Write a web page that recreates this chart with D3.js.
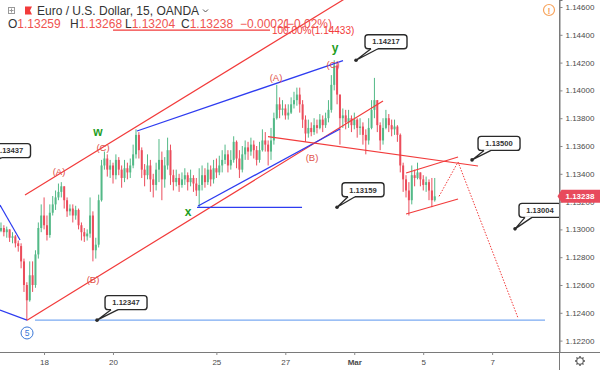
<!DOCTYPE html>
<html><head><meta charset="utf-8">
<script src="https://cdn.jsdelivr.net/npm/d3@7/dist/d3.min.js"></script>
<style>html,body{margin:0;padding:0;background:#fff;overflow:hidden}svg{display:block;font-family:Arial,"Liberation Sans",sans-serif}</style>
</head><body><svg id="c" width="600" height="370"></svg>
<script>
// ---------- DATA ----------
// time unit: trading days from Feb 18 00:00 (weekends removed), 2-hour candles
const candleStart = -1.248;
const candleStep = 1/12;
const firstOpen = 1.1299;
const closes = [
1.1301,1.1298,1.1300,1.1294,1.1295,1.1290,1.1288,1.1277,1.1260,1.1249,
1.1267,1.1260,1.1282,1.1301,1.1310,1.1303,1.1296,1.1312,1.1318,1.1323,
1.1327,1.1331,1.1321,1.1313,1.1315,1.1310,1.1314,1.1303,1.1298,1.1295,
1.1297,1.1310,1.1285,1.1289,1.1321,1.1346,1.1351,1.1343,1.1346,1.1339,
1.1350,1.1343,1.1337,1.1344,1.1341,1.1346,1.1354,1.1368,1.1357,1.1343,
1.1339,1.1346,1.1336,1.1332,1.1343,1.1350,1.1336,1.1346,1.1357,1.1339,
1.1334,1.1337,1.1332,1.1336,1.1339,1.1334,1.1337,1.1333,1.1328,1.1332,
1.1339,1.1334,1.1343,1.1336,1.1344,1.1341,1.1346,1.1350,1.1354,1.1346,
1.1350,1.1363,1.1351,1.1343,1.1354,1.1359,1.1356,1.1361,1.1357,1.1350,
1.1357,1.1364,1.1361,1.1356,1.1364,1.1380,1.1390,1.1386,1.1387,1.1382,
1.1384,1.1390,1.1393,1.1397,1.1390,1.1379,1.1369,1.1373,1.1370,1.1375,
1.1373,1.1379,1.1375,1.1380,1.1386,1.1404,1.1418,1.1397,1.1380,1.1382,
1.1377,1.1380,1.1375,1.1379,1.1373,1.1374,1.1368,1.1364,1.1373,1.1386,
1.1393,1.1375,1.1364,1.1373,1.1380,1.1375,1.1372,1.1374,1.1368,1.1346,
1.1336,1.1328,1.1321,1.1339,1.1337,1.1341,1.1336,1.1332,1.1334,1.1328,
1.1321,1.13238];
const highs = [
1.1305,1.1303,1.1302,1.1300,1.1298,1.1296,1.1292,1.1290,1.1279,1.1262,
1.1277,1.1277,1.1285,1.1305,1.1318,1.1323,1.1310,1.1318,1.1324,1.1328,
1.1333,1.1334,1.1331,1.1323,1.1318,1.1318,1.1317,1.1315,1.1305,1.1301,
1.1300,1.1323,1.1313,1.1294,1.1325,1.1350,1.1356,1.1354,1.1350,1.1348,
1.1354,1.1352,1.1346,1.1350,1.1348,1.1351,1.1361,1.1372,1.1370,1.1359,
1.1347,1.1354,1.1350,1.1340,1.1348,1.1365,1.1356,1.1352,1.1366,1.1361,
1.1343,1.1343,1.1340,1.1341,1.1344,1.1341,1.1343,1.1339,1.1337,1.1344,
1.1346,1.1344,1.1348,1.1346,1.1350,1.1351,1.1353,1.1357,1.1361,1.1357,
1.1357,1.1367,1.1364,1.1357,1.1360,1.1364,1.1363,1.1366,1.1364,1.1360,
1.1363,1.1372,1.1370,1.1364,1.1373,1.1384,1.1404,1.1395,1.1393,1.1390,
1.1390,1.1395,1.1399,1.1402,1.1402,1.1393,1.1382,1.1379,1.1377,1.1380,
1.1379,1.1383,1.1382,1.1384,1.1393,1.1411,1.14217,1.1420,1.1393,1.1387,
1.1386,1.1386,1.1382,1.1384,1.1380,1.1380,1.1377,1.1372,1.1380,1.1393,
1.1409,1.1393,1.1377,1.1380,1.1386,1.1383,1.1379,1.1379,1.1375,1.1369,
1.1348,1.1339,1.1334,1.1346,1.1343,1.1348,1.1341,1.1339,1.1338,1.1336,
1.1337,1.1337];
const lows = [
1.1298,1.1295,1.1294,1.1291,1.1290,1.1287,1.1284,1.1272,1.1255,1.12347,
1.1248,1.1255,1.1258,1.1279,1.1298,1.1300,1.1292,1.1294,1.1310,1.1314,
1.1321,1.1323,1.1315,1.1309,1.1310,1.1305,1.1307,1.1300,1.1292,1.1291,
1.1292,1.1294,1.1277,1.1279,1.1287,1.1320,1.1343,1.1338,1.1337,1.1333,
1.1336,1.1339,1.1330,1.1334,1.1336,1.1337,1.1344,1.1351,1.1351,1.1337,
1.1331,1.1336,1.1327,1.1323,1.1328,1.1334,1.1321,1.1330,1.1343,1.1332,
1.1328,1.1331,1.1327,1.1330,1.1332,1.1328,1.1331,1.1327,1.1324,1.13159,
1.1328,1.1330,1.1332,1.1331,1.1333,1.1337,1.1339,1.1341,1.1347,1.1341,
1.1343,1.1348,1.1344,1.1337,1.1341,1.1350,1.1350,1.1353,1.1351,1.1346,
1.1348,1.1356,1.1356,1.1346,1.1350,1.1361,1.1379,1.1380,1.1382,1.1379,
1.1379,1.1383,1.1387,1.1389,1.1384,1.1373,1.1363,1.1366,1.1367,1.1368,
1.1369,1.1372,1.1370,1.1373,1.1377,1.1384,1.1400,1.1390,1.1361,1.1373,
1.1372,1.1373,1.1370,1.1372,1.1366,1.1368,1.1361,1.1354,1.1361,1.1372,
1.1380,1.1370,1.1357,1.1361,1.1372,1.1370,1.1367,1.1368,1.1363,1.1341,
1.1327,1.1323,1.1310,1.1318,1.1331,1.1336,1.1331,1.1328,1.1327,1.1321,
1.1316,1.1320];

const yTicks = [1.122,1.124,1.126,1.128,1.130,1.132,1.134,1.136,1.138,1.140,1.142,1.144,1.146];
const xTickDays = [0,2,5,7,9,11,13];
const xTickLabels = ["18","20","25","27","Mar","5","7"];
const lastPrice = 1.13238;

// annotation lines: [trading day, price]
const channelUpper = [[-0.551,1.13248],[9.14,1.14722]];
const channelLower = [[-0.493,1.12347],[9.835,1.13924]];
const blueUpper = [[2.698,1.13708],[8.674,1.14215]];
const blueLower = [[4.468,1.13168],[8.587,1.13722]];
const xLevel = [[4.439,1.13159],[7.485,1.13159]];
const baseLevel = [[-0.261,1.12347],[14.534,1.12347]];
const leftBlue1 = [[-1.277,1.13176],[-0.696,1.12924]];
const leftBlue2 = [[-1.277,1.12420],[-0.493,1.12347]];
const bLine = [[6.498,1.13668],[12.591,1.13456]];
const smallUpper = [[10.503,1.13406],[12.011,1.13521]];
const smallLower = [[10.503,1.13111],[12.011,1.13219]];
const projection = [[11.46,1.13238],[12.011,1.13485],[13.751,1.12363]];
const fibLevel = [[2.002,1.14433],[6.556,1.14433]];
const fibText = "100.00%(1.14433)";

const abcLabels = [
 {text:"(A)",t:0.435,p:1.13420},{text:"(B)",t:1.4215,p:1.12643},{text:"(C)",t:1.712,p:1.13586},
 {text:"(A)",t:6.731,p:1.14090},{text:"(B)",t:7.775,p:1.13514},{text:"(C)",t:8.384,p:1.14183}];
const wxyLabels = [{text:"w",t:1.567,p:1.13701},{text:"x",t:4.178,p:1.13125},{text:"y",t:8.442,p:1.14305}];
const circleLabel = {text:"5",t:-0.493,p:1.12255};
const callouts = [
 {text:"1.13437",t:-1.784,p:1.13437,dx:27,dy:-18},
 {text:"1.12347",t:1.538,p:1.12347,dx:29,dy:-17.5},
 {text:"1.14217",t:9.051,p:1.14217,dx:30,dy:-18.5},
 {text:"1.13159",t:8.50,p:1.13159,dx:26,dy:-17.5},
 {text:"1.13500",t:12.417,p:1.13500,dx:27,dy:-16.5},
 {text:"1.13004",t:13.664,p:1.13004,dx:25,dy:-18.5}];

// ---------- DRAW ----------
const svg = d3.select('#c');
const axisX = 559.5, axisY = 352;
const x = d3.scaleLinear().domain([-1.277,14.94]).range([0,559]);
const y = d3.scaleLinear().domain([1.12118,1.146504]).range([352,0]);
const up = '#53b987', down = '#eb4d5c';
const red = '#f23b3b', blue = '#2e3cf0', lightBlue = '#7aaaf2';

svg.append('defs').append('clipPath').attr('id','pc').append('rect')
  .attr('x',0).attr('y',0).attr('width',axisX).attr('height',axisY);
const plot = svg.append('g').attr('clip-path','url(#pc)');

const candles = closes.map((c,i)=>({t:candleStart+i*candleStep,o:i===0?firstOpen:closes[i-1],h:highs[i],l:lows[i],c}));
const gC = plot.append('g');
gC.selectAll('line').data(candles).join('line')
  .attr('x1',d=>x(d.t)).attr('x2',d=>x(d.t))
  .attr('y1',d=>y(Math.max(d.h,d.o,d.c))).attr('y2',d=>y(Math.min(d.l,d.o,d.c)))
  .attr('stroke',d=>d.c>=d.o?up:down).attr('stroke-width',1);
gC.selectAll('rect').data(candles).join('rect')
  .attr('x',d=>x(d.t)-1).attr('width',2)
  .attr('y',d=>y(Math.max(d.o,d.c)))
  .attr('height',d=>Math.max(1,Math.abs(y(d.o)-y(d.c))))
  .attr('fill',d=>d.c>=d.o?up:down);

const line = d3.line().x(d=>x(d[0])).y(d=>y(d[1]));
function seg(pts,color,w,dash){
  const p = plot.append('path').attr('d',line(pts)).attr('fill','none')
    .attr('stroke',color).attr('stroke-width',w);
  if(dash) p.attr('stroke-dasharray',dash);
  return p;
}
seg(baseLevel,lightBlue,1.4);
seg(leftBlue1,blue,1.2);
seg(leftBlue2,blue,1.2);
seg(channelUpper,red,1.2);
seg(channelLower,red,1.2);
seg(blueUpper,blue,1.3);
seg(blueLower,blue,1.3);
seg(xLevel,blue,1.3);
seg(bLine,red,1.2);
seg(smallUpper,red,1.2);
seg(smallLower,red,1.2);
seg(projection,red,1,'1.5,1.5');
seg(fibLevel,red,1.2);
plot.append('text').attr('x',x(fibLevel[1][0])+2).attr('y',y(fibLevel[1][1])+4)
  .attr('font-size',10).attr('fill',red).text(fibText);

plot.selectAll('.abc').data(abcLabels).join('text').attr('class','abc')
  .attr('x',d=>x(d.t)).attr('y',d=>y(d.p)+3.5).attr('text-anchor','middle')
  .attr('font-size',9.5).attr('fill','#e0504a').text(d=>d.text);
plot.selectAll('.wxy').data(wxyLabels).join('text').attr('class','wxy')
  .attr('x',d=>x(d.t)).attr('y',d=>y(d.p)+4).attr('text-anchor','middle')
  .attr('font-size',12).attr('font-weight','bold').attr('fill','#1f9e1f').text(d=>d.text);
plot.append('circle').attr('cx',x(circleLabel.t)).attr('cy',y(circleLabel.p)).attr('r',6)
  .attr('fill','#fff').attr('stroke','#3a78d8').attr('stroke-width',1);
plot.append('text').attr('x',x(circleLabel.t)).attr('y',y(circleLabel.p)+3).attr('text-anchor','middle')
  .attr('font-size',8.5).attr('fill','#3a78d8').text(circleLabel.text);

// callouts
callouts.forEach(c=>{
  const px = x(c.t), py = y(c.p);
  const cx = px + c.dx, cy = py + c.dy, w = 42, h = 14;
  const g = plot.append('g');
  g.append('rect').attr('x',cx-w/2).attr('y',cy-h/2).attr('width',w).attr('height',h)
    .attr('rx',3).attr('fill','#fff').attr('stroke','#2a2a2a').attr('stroke-width',1.4);
  const bx1 = cx-w/2+6, bx2 = cx-w/2+13, by = cy+h/2;
  g.append('path').attr('d',`M${bx1},${by-0.8}L${bx1},${by}L${px},${py}L${bx2},${by}L${bx2},${by-0.8}`)
    .attr('fill','#fff').attr('stroke','none');
  g.append('path').attr('d',`M${bx1},${by}L${px},${py}L${bx2},${by}`)
    .attr('fill','none').attr('stroke','#2a2a2a').attr('stroke-width',1.3);
  g.append('circle').attr('cx',px).attr('cy',py).attr('r',1.8).attr('fill','#2a2a2a');
  g.append('text').attr('x',cx).attr('y',cy+2.7).attr('text-anchor','middle')
    .attr('font-size',7.6).attr('font-weight','bold').attr('fill','#333').text(c.text);
});

// ---------- AXES ----------
svg.append('rect').attr('x',axisX).attr('y',0).attr('width',600-axisX).attr('height',370).attr('fill','#fff');
svg.append('rect').attr('x',0).attr('y',axisY).attr('width',600).attr('height',18).attr('fill','#fff');
const ya = svg.append('g').attr('transform',`translate(${axisX},0)`)
  .call(d3.axisRight(y).tickValues(yTicks).tickFormat(d3.format('.5f')).tickSize(3).tickPadding(3));
ya.select('.domain').attr('stroke','#7a7a7a');
ya.selectAll('.tick line').attr('stroke','#888');
ya.selectAll('.tick text').attr('fill','#4a4a4a').attr('font-size',8).attr('font-family','Arial');
const xa = svg.append('g').attr('transform',`translate(0,${axisY})`)
  .call(d3.axisBottom(x).tickValues(xTickDays).tickFormat((d,i)=>xTickLabels[i]).tickSize(3).tickPadding(4));
xa.select('.domain').attr('stroke','#7a7a7a').attr('d','M0,0.5H600');
xa.selectAll('.tick line').attr('stroke','#888');
xa.selectAll('.tick text').attr('fill','#4a4a4a').attr('font-size',8).attr('font-family','Arial')
  .attr('font-weight',(d,i)=>xTickLabels[i]==='Mar'?'bold':'normal');
svg.append('line').attr('x1',axisX).attr('x2',axisX).attr('y1',0).attr('y2',370).attr('stroke','#7a7a7a');

// last price label
const ly = y(lastPrice);
svg.append('path').attr('d',`M${axisX-2},${ly}L${axisX+2},${ly-6.5}H600V${ly+6.5}H${axisX+2}Z`).attr('fill','#e84a5c');
svg.append('text').attr('x',axisX+6).attr('y',ly+3).attr('font-size',8).attr('font-weight','bold')
  .attr('fill','#fff').text(lastPrice.toFixed(5));

// gear icon
const gear = svg.append('g').attr('transform','translate(580,361)');
d3.range(8).forEach(k=>{const a=k*Math.PI/4;gear.append('line').attr('x1',Math.cos(a)*3).attr('y1',Math.sin(a)*3)
  .attr('x2',Math.cos(a)*5).attr('y2',Math.sin(a)*5).attr('stroke','#555').attr('stroke-width',1.4);});
gear.append('circle').attr('r',3.3).attr('fill','#fff').attr('stroke','#555').attr('stroke-width',1.1);

// warning icon
svg.append('circle').attr('cx',549).attr('cy',10).attr('r',5.5).attr('fill','#fff').attr('stroke','#f7a35c').attr('stroke-width',1.2);
svg.append('text').attr('x',549).attr('y',13.5).attr('text-anchor','middle').attr('font-size',9).attr('font-weight','bold').attr('fill','#f7a35c').text('!');

// ---------- LEGEND ----------
const lg = svg.append('g');
lg.append('rect').attr('x',8.5).attr('y',7.5).attr('width',6).attr('height',6).attr('fill','none').attr('stroke','#999');
lg.append('path').attr('d','M11.5,8.5V12.5M9.5,10.5H13.5').attr('stroke','#999');
lg.append('path').attr('d','M25,6.5H32L30,10.5L32,14.5H25Z').attr('fill','#f23b3b');
lg.append('text').attr('x',37).attr('y',15).attr('font-size',12).attr('fill','#333').text('Euro / U.S. Dollar, 15, OANDA');
lg.append('path').attr('d','M203,9.5L205.5,12L208,9.5').attr('fill','none').attr('stroke','#555');
const legendParts = [["O","1.13259",8],["H","1.13268",70],["L","1.13204",125],["C","1.13238",181],["","\u22120.00021",240],["","(\u22120.02%)",283]];
legendParts.forEach(([k,v,px])=>{
  const t = lg.append('text').attr('x',px).attr('y',28).attr('font-size',12);
  if(k) t.append('tspan').attr('fill','#333').text(k);
  t.append('tspan').attr('fill','#ef5350').text(v);
});
</script></body></html>
